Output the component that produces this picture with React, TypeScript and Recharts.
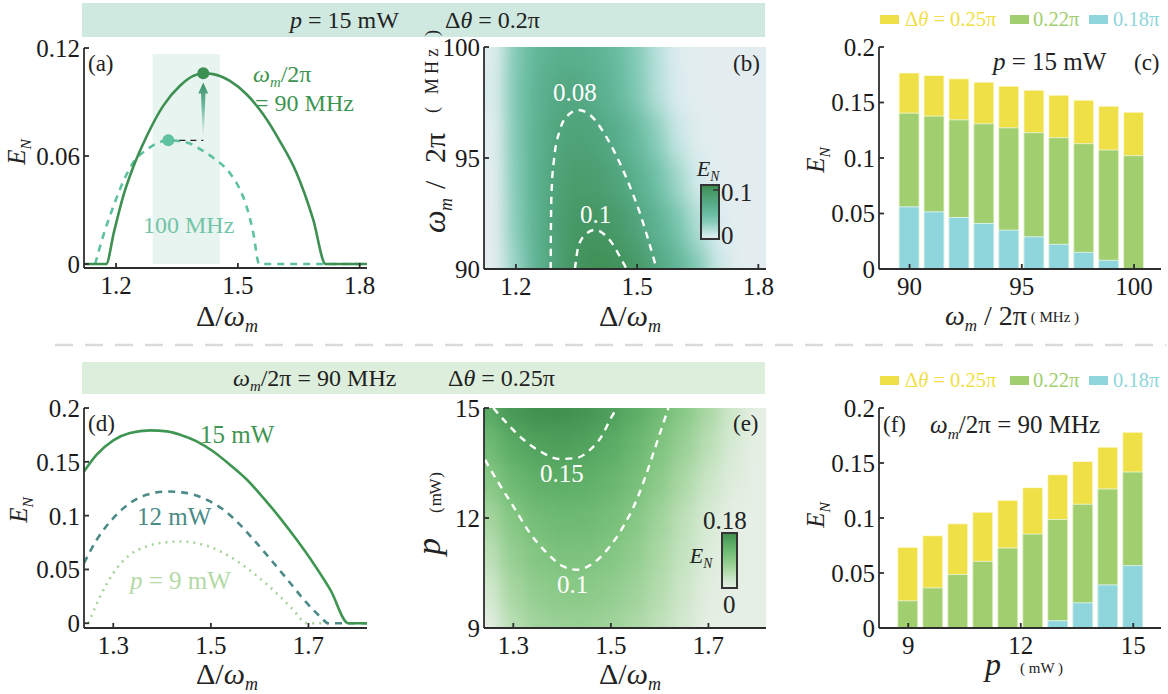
import React from "react";
import {
  ComposedChart,
  BarChart,
  Bar,
  Line,
  XAxis,
  YAxis,
  ReferenceArea,
  ReferenceDot,
  ReferenceLine,
} from "recharts";

const SERIF = '"Liberation Serif", "DejaVu Serif", serif';
const AX = "#2e2e2e";
const TICK = 5;

// ---------- (a) E_N vs Δ/ω_m at p = 15 mW
const aX90 = [1.121, 1.1754, 1.195, 1.218, 1.2425, 1.2754, 1.3164, 1.3574, 1.39, 1.4147, 1.4393, 1.4803, 1.5213, 1.5623, 1.6033, 1.6443, 1.6852, 1.7164, 1.818];
const aY90 = [0, 0, 0.018, 0.038, 0.054, 0.071, 0.088, 0.099, 0.1045, 0.106, 0.1055, 0.1017, 0.0943, 0.0832, 0.0683, 0.0507, 0.025, 0, 0];
const aX100 = [1.1484, 1.1688, 1.1934, 1.218, 1.2425, 1.2754, 1.3287, 1.3738, 1.4147, 1.4393, 1.4803, 1.5049, 1.5213, 1.5377, 1.5525, 1.818];
const aY100 = [0, 0.016, 0.032, 0.046, 0.0565, 0.0635, 0.0687, 0.0675, 0.0628, 0.059, 0.0505, 0.0415, 0.032, 0.0175, 0, 0];
const aPeak90 = { x: 1.4147, y: 0.106 };
const aPeak100 = { x: 1.3287, y: 0.0687 };
const aBand = { x1: 1.29, x2: 1.4557, y1: 0, y2: 0.1166 };
const aArrow = { y1: 0.071, y2: 0.1008 };

// ---------- (b) map of E_N over Δ/ω_m and ω_m/2π
const bDelta = [1.15, 1.2, 1.25, 1.3, 1.35, 1.4, 1.45, 1.5, 1.55, 1.6, 1.65, 1.7, 1.75, 1.8];
const bOmega = [90, 92, 94, 96, 98, 100];
const b90 = [0, 0.028, 0.062, 0.086, 0.1, 0.105, 0.103, 0.095, 0.08, 0.061, 0.038, 0.012, 0, 0];
const b92 = [0, 0.034, 0.065, 0.086, 0.098, 0.099, 0.094, 0.082, 0.065, 0.044, 0.02, 0.004, 0, 0];
const b94 = [0, 0.036, 0.065, 0.084, 0.092, 0.09, 0.082, 0.068, 0.048, 0.026, 0.008, 0, 0, 0];
const b96 = [0.001, 0.038, 0.064, 0.08, 0.085, 0.081, 0.071, 0.054, 0.033, 0.012, 0.002, 0, 0, 0];
const b98 = [0.005, 0.039, 0.062, 0.075, 0.077, 0.07, 0.057, 0.038, 0.018, 0.004, 0, 0, 0, 0];
const b100 = [0.002, 0.037, 0.058, 0.067, 0.068, 0.064, 0.053, 0.036, 0.017, 0.003, 0, 0, 0, 0];
const bC08X = [1.286, 1.2867, 1.2884, 1.2941, 1.309, 1.3296, 1.3543, 1.3833, 1.408, 1.4328, 1.4576, 1.4823, 1.5071, 1.5277, 1.5484];
const bC08Y = [90, 92.06, 93.56, 94.91, 96.26, 96.94, 97.16, 96.94, 96.41, 95.66, 94.76, 93.71, 92.51, 91.31, 90];
const bC10X = [1.3461, 1.3543, 1.3709, 1.3956, 1.4204, 1.441, 1.4576, 1.4741];
const bC10Y = [90, 91.0, 91.53, 91.76, 91.53, 91.08, 90.55, 90];

// ---------- (c) bars vs ω_m/2π at p = 15 mW
const cOmega = [90, 91.11, 92.22, 93.33, 94.44, 95.56, 96.67, 97.78, 98.89, 100];
const c25 = [0.1766, 0.1743, 0.1713, 0.1683, 0.1647, 0.1611, 0.1566, 0.1521, 0.1467, 0.1413];
const c22 = [0.1404, 0.1377, 0.1344, 0.1308, 0.1272, 0.1228, 0.1183, 0.1129, 0.1072, 0.1021];
const c18 = [0.056, 0.0515, 0.0464, 0.041, 0.035, 0.029, 0.0222, 0.015, 0.0078, 0];

// ---------- (d) E_N vs Δ/ω_m for three powers
const dX15 = [1.24, 1.266, 1.3, 1.334, 1.375, 1.41, 1.437, 1.471, 1.505, 1.539, 1.574, 1.608, 1.642, 1.676, 1.71, 1.745, 1.782, 1.82];
const dY15 = [0.141, 0.1566, 0.17, 0.1767, 0.1792, 0.1783, 0.1752, 0.169, 0.1596, 0.1473, 0.1333, 0.1163, 0.0977, 0.0775, 0.0558, 0.031, 0, 0];
const dX12 = [1.24, 1.266, 1.3, 1.334, 1.368, 1.41, 1.451, 1.492, 1.526, 1.56, 1.594, 1.629, 1.663, 1.697, 1.724, 1.741, 1.82];
const dY12 = [0.0558, 0.0775, 0.0977, 0.1116, 0.1193, 0.1224, 0.1209, 0.1147, 0.1054, 0.0914, 0.0744, 0.0558, 0.0372, 0.0186, 0.0062, 0, 0];
const dX9 = [1.249, 1.273, 1.3, 1.334, 1.368, 1.403, 1.437, 1.471, 1.505, 1.539, 1.574, 1.608, 1.642, 1.669, 1.69, 1.697, 1.745];
const dY9 = [0, 0.0248, 0.0465, 0.0636, 0.0713, 0.075, 0.076, 0.0744, 0.0698, 0.062, 0.0512, 0.0388, 0.0248, 0.0124, 0.0016, 0, 0];

// ---------- (e) map of E_N over Δ/ω_m and p
const eDelta = [1.25, 1.3, 1.35, 1.4, 1.45, 1.5, 1.55, 1.6, 1.65, 1.7, 1.75, 1.8];
const ePower = [9, 10, 11, 12, 13, 14, 15];
const e9 = [0, 0.047, 0.068, 0.075, 0.076, 0.07, 0.059, 0.042, 0.022, 0, 0, 0];
const e10 = [0.021, 0.064, 0.084, 0.091, 0.091, 0.084, 0.071, 0.052, 0.029, 0.006, 0, 0];
const e11 = [0.043, 0.081, 0.1, 0.106, 0.106, 0.099, 0.084, 0.061, 0.037, 0.011, 0, 0];
const e12 = [0.064, 0.098, 0.116, 0.122, 0.121, 0.113, 0.096, 0.071, 0.044, 0.017, 0, 0];
const e13 = [0.092, 0.122, 0.137, 0.141, 0.138, 0.129, 0.112, 0.088, 0.06, 0.032, 0.009, 0];
const e14 = [0.119, 0.146, 0.157, 0.16, 0.156, 0.145, 0.127, 0.104, 0.077, 0.047, 0.018, 0];
const e15 = [0.147, 0.17, 0.178, 0.179, 0.173, 0.161, 0.143, 0.121, 0.093, 0.062, 0.027, 0];
const eC15X = [1.259, 1.2865, 1.3205, 1.3548, 1.3958, 1.43, 1.4573, 1.4813, 1.4984, 1.512];
const eC15Y = [15, 14.59, 14.14, 13.82, 13.61, 13.64, 13.86, 14.23, 14.68, 15];
const eC10X = [1.242, 1.266, 1.3, 1.3342, 1.3685, 1.4026, 1.43, 1.4641, 1.4984, 1.5256, 1.5531, 1.5736, 1.5941, 1.618];
const eC10Y = [13.59, 13.04, 12.32, 11.59, 11.05, 10.68, 10.59, 10.77, 11.23, 11.77, 12.5, 13.23, 14.05, 15];

// ---------- (f) bars vs p at ω_m/2π = 90 MHz
const fPower = [9, 9.667, 10.333, 11, 11.667, 12.333, 13, 13.667, 14.333, 15];
const f25 = [0.0733, 0.0839, 0.0947, 0.1053, 0.1161, 0.1276, 0.1394, 0.1514, 0.1644, 0.178];
const f22 = [0.0247, 0.0365, 0.0486, 0.0606, 0.0727, 0.0854, 0.0986, 0.1125, 0.1264, 0.1418];
const f18 = [0, 0, 0, 0, 0, 0, 0.0066, 0.0229, 0.0392, 0.0567];

// colours
const YEL = "#efe047";
const GRN = "#a1cf6f";
const CYA = "#8fd5dc";
const B_STOPS: [number, string][] = [
  [0, "#e3edf0"], [0.008, "#d3ebeb"], [0.02, "#aedcd5"], [0.035, "#85ccb8"], [0.05, "#6bbea3"],
  [0.07, "#58ae8c"], [0.085, "#4fa277"], [0.1, "#449560"], [0.11, "#3b8a4c"],
];
const E_STOPS: [number, string][] = [
  [0, "#e6efe5"], [0.03, "#cce6c8"], [0.06, "#abd8a5"], [0.09, "#8bca88"], [0.12, "#6fbb73"],
  [0.15, "#56a862"], [0.18, "#3f8e4e"],
];

type Rect = { left: number; top: number; right: number; bottom: number };
const PA: Rect = { left: 84, top: 48, right: 367, bottom: 268 };
const PB: Rect = { left: 484, top: 47, right: 766, bottom: 269 };
const PC: Rect = { left: 879, top: 47, right: 1161, bottom: 269 };
const PD: Rect = { left: 84, top: 408, right: 367, bottom: 628 };
const PE: Rect = { left: 484, top: 408, right: 766, bottom: 628 };
const PF: Rect = { left: 879, top: 408, right: 1161, bottom: 628 };
const PAD = { l: 70, r: 30, t: 20, b: 48 };

const pts = (xs: number[], ys: number[]) => xs.map((x, i) => ({ x, y: ys[i] }));

function hex(c: string) {
  const n = parseInt(c.slice(1), 16);
  return [(n >> 16) & 255, (n >> 8) & 255, n & 255];
}
function colorAt(stops: [number, string][], v: number) {
  if (v <= stops[0][0]) return stops[0][1];
  for (let i = 1; i < stops.length; i++) {
    if (v <= stops[i][0]) {
      const [a, ca] = stops[i - 1];
      const [b, cb] = stops[i];
      const t = (v - a) / (b - a);
      const A = hex(ca);
      const B = hex(cb);
      return `rgb(${A.map((q, k) => Math.round(q + (B[k] - q) * t)).join(",")})`;
    }
  }
  return stops[stops.length - 1][1];
}

function box(r: Rect) {
  const w = r.right - r.left;
  const h = r.bottom - r.top;
  return {
    style: { position: "absolute", left: r.left - PAD.l, top: r.top - PAD.t } as React.CSSProperties,
    width: w + PAD.l + PAD.r,
    height: h + PAD.t + PAD.b,
    margin: { top: PAD.t, right: PAD.r, bottom: 0, left: 0 },
  };
}

const tickFont = { fontFamily: SERIF, fontSize: 25, fill: "#1a1a1a" };
const axLine = { stroke: AX, strokeWidth: 1.8 };

function frame(xd: number[], yd: number[], xt: number[], yt: number[]) {
  return [
    <XAxis key="xb" xAxisId={0} type="number" dataKey="x" domain={xd} ticks={xt} interval={0} allowDataOverflow
      height={PAD.b} axisLine={axLine} tickLine={axLine} tickSize={-TICK} tickMargin={TICK + 8} tick={tickFont} />,
    <XAxis key="xt" xAxisId="top" orientation="top" type="number" dataKey="x" domain={xd} ticks={xt} interval={0}
      allowDataOverflow height={0} axisLine={axLine} tickLine={axLine} tickSize={-TICK} tick={false} />,
    <YAxis key="yl" yAxisId={0} type="number" domain={yd} ticks={yt} interval={0} allowDataOverflow
      width={PAD.l} axisLine={axLine} tickLine={axLine} tickSize={-TICK} tickMargin={TICK + 4} tick={tickFont} />,
    <YAxis key="yr" yAxisId="right" orientation="right" type="number" domain={yd} ticks={yt} interval={0}
      allowDataOverflow width={0} axisLine={axLine} tickLine={axLine} tickSize={-TICK} tick={false} />,
  ];
}

function cellEdges(a: number[]) {
  const step = a[1] - a[0];
  return a.map((v, i) => [
    i === 0 ? v - 50 * step : (a[i - 1] + v) / 2,
    i === a.length - 1 ? v + 50 * step : (v + a[i + 1]) / 2,
  ]);
}

function Heat(props: {
  r: Rect; xd: number[]; yd: number[]; xs: number[]; ys: number[]; rows: number[][];
  stops: [number, string][]; filter: string;
}) {
  const { r, xd, yd, xs, ys, rows, stops, filter } = props;
  const w = r.right - r.left;
  const h = r.bottom - r.top;
  const B = 40;
  const ex = (B * (xd[1] - xd[0])) / w;
  const ey = (B * (yd[1] - yd[0])) / h;
  const xe = cellEdges(xs);
  const ye = cellEdges(ys);
  const centers = ys.flatMap((y) => xs.map((x) => ({ x, y })));
  return (
    <div style={{ position: "absolute", left: r.left, top: r.top, width: w, height: h, overflow: "hidden" }}>
      <div style={{ position: "absolute", left: -B, top: -B, filter: `url(#${filter})` }}>
        <ComposedChart width={w + 2 * B} height={h + 2 * B} margin={{ top: 0, right: 0, bottom: 0, left: 0 }} data={centers}>
          <XAxis type="number" dataKey="x" domain={[xd[0] - ex, xd[1] + ex]} hide allowDataOverflow />
          <YAxis type="number" dataKey="y" domain={[yd[0] - ey, yd[1] + ey]} hide allowDataOverflow />
          {rows.flatMap((row, j) =>
            row.map((v, i) => {
              const fill = colorAt(stops, v);
              return (
                <ReferenceArea key={`${j}-${i}`} x1={xe[i][0]} x2={xe[i][1]} y1={ye[j][0]} y2={ye[j][1]}
                  fill={fill} fillOpacity={1} stroke={fill} strokeWidth={1} ifOverflow="hidden" />
              );
            })
          )}
        </ComposedChart>
      </div>
    </div>
  );
}

function Arrow(props: any) {
  const { x, y, width, height } = props;
  const cx = x + width / 2;
  const head = 11;
  return (
    <g>
      <defs>
        <linearGradient id="arrowFill" x1="0" y1="1" x2="0" y2="0">
          <stop offset="0" stopColor="#45a580" stopOpacity={0} />
          <stop offset="0.6" stopColor="#45a580" stopOpacity={0.8} />
          <stop offset="1" stopColor="#3b8f68" stopOpacity={1} />
        </linearGradient>
      </defs>
      <polygon
        points={`${cx - 0.6},${y + height} ${cx + 0.6},${y + height} ${cx + 2.2},${y + head} ${cx + 5},${y + head} ${cx},${y} ${cx - 5},${y + head} ${cx - 2.2},${y + head}`}
        fill="url(#arrowFill)"
      />
    </g>
  );
}

function ChartA() {
  const b = box(PA);
  return (
    <div style={b.style}>
      <ComposedChart width={b.width} height={b.height} margin={b.margin}>
        {frame([1.121, 1.818], [-0.0022, 0.12], [1.2, 1.5, 1.8], [0, 0.06, 0.12])}
        <ReferenceArea x1={aBand.x1} x2={aBand.x2} y1={aBand.y1} y2={aBand.y2} fill="#e8f4f0" fillOpacity={1} stroke="none" />
        <Line data={pts(aX100, aY100)} dataKey="y" type="monotone" stroke="#5ec19f" strokeWidth={2.6}
          strokeDasharray="7 6" dot={false} isAnimationActive={false} />
        <Line data={pts(aX90, aY90)} dataKey="y" type="monotone" stroke="#3d8f52" strokeWidth={2.6}
          dot={false} isAnimationActive={false} />
        <ReferenceLine segment={[{ x: aPeak100.x, y: aPeak100.y }, { x: aPeak90.x, y: aPeak100.y }]}
          stroke="#222" strokeWidth={1.2} strokeDasharray="6 5" />
        <ReferenceArea x1={aPeak90.x - 0.015} x2={aPeak90.x + 0.015} y1={aArrow.y1} y2={aArrow.y2} shape={Arrow} />
        <ReferenceDot x={aPeak100.x} y={aPeak100.y} r={6} fill="#5ec19f" stroke="none" />
        <ReferenceDot x={aPeak90.x} y={aPeak90.y} r={6} fill="#3d8f52" stroke="none" />
      </ComposedChart>
    </div>
  );
}

const contour = { stroke: "#ffffff", strokeWidth: 2.4, strokeDasharray: "7 6", dot: false, isAnimationActive: false };

function ChartB() {
  const b = box(PB);
  return (
    <div style={b.style}>
      <ComposedChart width={b.width} height={b.height} margin={b.margin}>
        {frame([1.121, 1.819], [90, 100], [1.2, 1.5, 1.8], [90, 95, 100])}
        <Line data={pts(bC08X, bC08Y)} dataKey="y" type="monotone" {...contour} />
        <Line data={pts(bC10X, bC10Y)} dataKey="y" type="monotone" {...contour} />
      </ComposedChart>
    </div>
  );
}

function ChartE() {
  const b = box(PE);
  return (
    <div style={b.style}>
      <ComposedChart width={b.width} height={b.height} margin={b.margin}>
        {frame([1.24, 1.818], [9, 15], [1.3, 1.5, 1.7], [9, 12, 15])}
        <Line data={pts(eC15X, eC15Y)} dataKey="y" type="monotone" {...contour} />
        <Line data={pts(eC10X, eC10Y)} dataKey="y" type="monotone" {...contour} />
      </ComposedChart>
    </div>
  );
}

function ChartD() {
  const b = box(PD);
  return (
    <div style={b.style}>
      <ComposedChart width={b.width} height={b.height} margin={b.margin}>
        {frame([1.24, 1.82], [-0.0044, 0.2], [1.3, 1.5, 1.7], [0, 0.05, 0.1, 0.15, 0.2])}
        <Line data={pts(dX9, dY9)} dataKey="y" type="monotone" stroke="#a8d39a" strokeWidth={2.6}
          strokeDasharray="2 5" dot={false} isAnimationActive={false} />
        <Line data={pts(dX12, dY12)} dataKey="y" type="monotone" stroke="#4b8a86" strokeWidth={2.6}
          strokeDasharray="7 6" dot={false} isAnimationActive={false} />
        <Line data={pts(dX15, dY15)} dataKey="y" type="monotone" stroke="#3f9552" strokeWidth={2.6}
          dot={false} isAnimationActive={false} />
      </ComposedChart>
    </div>
  );
}

function Bars(props: { r: Rect; xd: number[]; xt: number[]; xs: number[]; v25: number[]; v22: number[]; v18: number[] }) {
  const { r, xd, xt, xs, v25, v22, v18 } = props;
  const b = box(r);
  const yd = [0, 0.2];
  const data = xs.map((x, i) => ({ x, y25: v25[i], y22: v22[i], y18: v18[i] }));
  return (
    <div style={b.style}>
      <BarChart width={b.width} height={b.height} margin={b.margin} data={data}>
        {frame(xd, yd, xt, [0, 0.05, 0.1, 0.15, 0.2])}
        <XAxis xAxisId="g" type="number" dataKey="x" domain={xd} hide allowDataOverflow />
        <YAxis yAxisId="g" type="number" domain={yd} hide allowDataOverflow />
        <XAxis xAxisId="c" type="number" dataKey="x" domain={xd} hide allowDataOverflow />
        <YAxis yAxisId="c" type="number" domain={yd} hide allowDataOverflow />
        <Bar dataKey="y25" xAxisId={0} yAxisId={0} fill={YEL} barSize={20} stroke="#fffbe0" strokeWidth={0.8} isAnimationActive={false} />
        <Bar dataKey="y22" xAxisId="g" yAxisId="g" fill={GRN} barSize={20} stroke="#eef8e0" strokeWidth={0.8} isAnimationActive={false} />
        <Bar dataKey="y18" xAxisId="c" yAxisId="c" fill={CYA} barSize={20} stroke="#e8f8f8" strokeWidth={0.8} isAnimationActive={false} />
      </BarChart>
    </div>
  );
}

function EN({ x, y, s = 25, rot = true }: { x: number; y: number; s?: number; rot?: boolean }) {
  return (
    <text transform={`translate(${x},${y})${rot ? " rotate(-90)" : ""}`} textAnchor="middle" fontSize={s}
      fontStyle="italic" fill="#222">
      E<tspan fontSize={s * 0.62} dy={s * 0.24}>N</tspan>
    </text>
  );
}

function Wm({ s }: { s: number }) {
  return (
    <>
      <tspan fontStyle="italic">ω</tspan>
      <tspan fontStyle="italic" fontSize={s * 0.62} dy={s * 0.22}>m</tspan>
      <tspan dy={-s * 0.22}>/2π</tspan>
    </>
  );
}

function Legend({ y }: { y: number }) {
  return (
    <g fontSize={20.5}>
      <rect x={880} y={y - 4} width={19} height={9} fill={YEL} />
      <text x={905} y={y + 7} fill={YEL}>Δ<tspan fontStyle="italic">θ</tspan> = 0.25π</text>
      <rect x={1010} y={y - 4} width={19} height={9} fill={GRN} />
      <text x={1033} y={y + 7} fill={GRN}>0.22π</text>
      <rect x={1089} y={y - 4} width={19} height={9} fill={CYA} />
      <text x={1113} y={y + 7} fill={CYA}>0.18π</text>
    </g>
  );
}

function DeltaLabel({ cx, y }: { cx: number; y: number }) {
  return (
    <text x={cx} y={y} textAnchor="middle" fontSize={30} fill="#222">
      Δ/<tspan fontStyle="italic">ω</tspan>
      <tspan fontStyle="italic" fontSize={18} dy={6}>m</tspan>
    </text>
  );
}

function Overlay() {
  const bStopsEl = B_STOPS.map(([v, c], i) => (
    <stop key={i} offset={1 - v / 0.11} stopColor={c} />
  )).reverse();
  const eStopsEl = E_STOPS.map(([v, c], i) => (
    <stop key={i} offset={1 - v / 0.18} stopColor={c} />
  )).reverse();
  return (
    <svg width={1168} height={694} style={{ position: "absolute", left: 0, top: 0, pointerEvents: "none" }}
      fontFamily={SERIF}>
      <defs>
        <linearGradient id="cbB" x1="0" y1="0" x2="0" y2="1">{bStopsEl}</linearGradient>
        <linearGradient id="cbE" x1="0" y1="0" x2="0" y2="1">{eStopsEl}</linearGradient>
      </defs>

      {/* top banner */}
      <rect x={82} y={3} width={683} height={34} fill="#cfe9e0" />
      <text x={290} y={28} fontSize={24} fill="#222"><tspan fontStyle="italic">p</tspan> = 15 mW</text>
      <text x={445} y={28} fontSize={24} fill="#222">Δ<tspan fontStyle="italic">θ</tspan> = 0.2π</text>

      <line x1={55} x2={1166} y1={345} y2={345} stroke="#dadada" strokeWidth={2.5} strokeDasharray="18 12" />

      {/* bottom banner */}
      <rect x={82} y={362} width={683} height={32} fill="#ddefdc" />
      <text x={233} y={386} fontSize={24} fill="#222"><Wm s={24} /> = 90 MHz</text>
      <text x={448} y={386} fontSize={24} fill="#222">Δ<tspan fontStyle="italic">θ</tspan> = 0.25π</text>

      {/* (a) */}
      <text x={88} y={71} fontSize={23} fill="#222">(a)</text>
      <text x={253} y={82} fontSize={24} fill="#3d9450"><Wm s={24} /></text>
      <text x={255} y={111} fontSize={24} fill="#3d9450">= 90 MHz</text>
      <text x={143} y={233} fontSize={24} fill="#72c4a6">100 MHz</text>
      <EN x={25} y={152} />
      <DeltaLabel cx={227} y={326} />

      {/* (b) */}
      <text x={733} y={71} fontSize={23} fill="#222">(b)</text>
      <text x={553} y={101} fontSize={25} fill="#fff">0.08</text>
      <text x={580} y={223} fontSize={25} fill="#fff">0.1</text>
      <rect x={701} y={185} width={18} height={54} fill="url(#cbB)" stroke="#333" strokeWidth={2} />
      <line x1={713} x2={719} y1={190} y2={190} stroke="#333" strokeWidth={1.5} />
      <text x={721} y={201} fontSize={25} fill="#222">0.1</text>
      <text x={721} y={244} fontSize={25} fill="#222">0</text>
      <EN x={708} y={176} s={22} rot={false} />
      <g transform="translate(445,233) rotate(-90)" fill="#222">
        <text x={0} y={0} fontSize={32} fontStyle="italic">ω</text>
        <text x={22} y={7} fontSize={18} fontStyle="italic">m</text>
        <text x={44} y={0} fontSize={30}>/</text>
        <text x={70} y={0} fontSize={30}>2π</text>
        <text x={120} y={-7} fontSize={18} textLength={83} lengthAdjust="spacing">( MHz )</text>
      </g>
      <DeltaLabel cx={630} y={326} />

      {/* (c) */}
      <Legend y={19} />
      <text x={993} y={70} fontSize={25} fill="#222"><tspan fontStyle="italic">p</tspan> = 15 mW</text>
      <text x={1134} y={70} fontSize={23} fill="#222">(c)</text>
      <EN x={824} y={160} />
      <text x={945} y={325} fontSize={28} fill="#222">
        <tspan fontStyle="italic">ω</tspan>
        <tspan fontStyle="italic" fontSize={17} dy={6}>m</tspan>
        <tspan dy={-6}> / 2π</tspan>
        <tspan fontSize={15} dy={-3}> ( MHz )</tspan>
      </text>

      {/* (d) */}
      <text x={88} y={431} fontSize={23} fill="#222">(d)</text>
      <text x={200} y={443} fontSize={25} fill="#3f9552">15 mW</text>
      <text x={137} y={525} fontSize={25} fill="#4b8a86">12 mW</text>
      <text x={130} y={589} fontSize={25} fill="#b3d9a5"><tspan fontStyle="italic">p</tspan> = 9 mW</text>
      <EN x={27} y={510} />
      <DeltaLabel cx={227} y={684} />

      {/* (e) */}
      <text x={733} y={431} fontSize={23} fill="#222">(e)</text>
      <text x={540} y={482} fontSize={25} fill="#fff">0.15</text>
      <text x={557} y={593} fontSize={25} fill="#fff">0.1</text>
      <rect x={722} y={533} width={15} height={55} fill="url(#cbE)" stroke="#333" strokeWidth={2} />
      <text x={703} y={529} fontSize={25} fill="#222">0.18</text>
      <text x={723} y={613} fontSize={25} fill="#222">0</text>
      <EN x={701} y={563} s={22} rot={false} />
      <g transform="translate(440,555) rotate(-90)" fill="#222">
        <text x={0} y={0} fontSize={34} fontStyle="italic">p</text>
        <text x={42} y={1} fontSize={17} textLength={41} lengthAdjust="spacing">( mW )</text>
      </g>
      <DeltaLabel cx={630} y={684} />

      {/* (f) */}
      <Legend y={380} />
      <text x={883} y={432} fontSize={23} fill="#222">(f)</text>
      <text x={930} y={433} fontSize={25} fill="#222"><Wm s={25} /> = 90 MHz</text>
      <EN x={824} y={515} />
      <text x={985} y={675} fontSize={32} fontStyle="italic" fill="#222">p</text>
      <text x={1020} y={673} fontSize={15} fill="#222">( mW )</text>
    </svg>
  );
}

export default function App() {
  return (
    <div style={{ position: "absolute", left: 0, top: 0, width: 1168, height: 694, background: "#fff", overflow: "hidden", fontFamily: SERIF }}>
      <svg width={0} height={0} style={{ position: "absolute" }}>
        <defs>
          <filter id="blurB" x="-10%" y="-10%" width="120%" height="120%" colorInterpolationFilters="sRGB">
            <feGaussianBlur stdDeviation="8 13" />
          </filter>
          <filter id="blurE" x="-10%" y="-10%" width="120%" height="120%" colorInterpolationFilters="sRGB">
            <feGaussianBlur stdDeviation="8 11" />
          </filter>
        </defs>
      </svg>
      <Heat r={PB} xd={[1.121, 1.819]} yd={[90, 100]} xs={bDelta} ys={bOmega}
        rows={[b90, b92, b94, b96, b98, b100]} stops={B_STOPS} filter="blurB" />
      <Heat r={PE} xd={[1.24, 1.818]} yd={[9, 15]} xs={eDelta} ys={ePower}
        rows={[e9, e10, e11, e12, e13, e14, e15]} stops={E_STOPS} filter="blurE" />
      <ChartA />
      <ChartB />
      <Bars r={PC} xd={[88.64, 101.2]} xt={[90, 95, 100]} xs={cOmega} v25={c25} v22={c22} v18={c18} />
      <ChartD />
      <ChartE />
      <Bars r={PF} xd={[8.22, 15.74]} xt={[9, 12, 15]} xs={fPower} v25={f25} v22={f22} v18={f18} />
      <Overlay />
    </div>
  );
}
